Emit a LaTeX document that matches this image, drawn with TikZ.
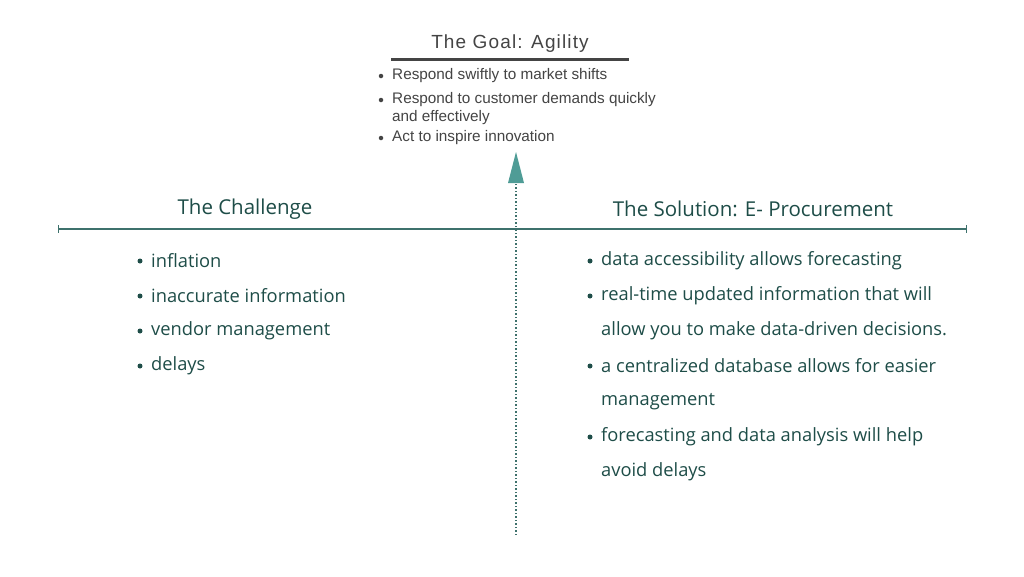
\documentclass[tikz,border=0pt]{standalone}
\usepackage{fontspec}
\setmainfont{Open Sans}
\newfontfamily\arialf{Liberation Sans}
\newfontfamily\arialsp{Liberation Sans}[LetterSpace=6]
\definecolor{tealtxt}{HTML}{1E4D48}
\definecolor{tealline}{HTML}{3E716C}
\definecolor{tealarrow}{HTML}{4F9C96}
\definecolor{graytxt}{HTML}{444444}
\begin{document}
\begin{tikzpicture}[x=1pt,y=-1pt,
  toptxt/.style={anchor=west,inner sep=0,font=\arialf\fontsize{15.3}{17}\selectfont,text=graytxt},
  topdot/.style={circle,fill=graytxt,inner sep=0,minimum size=4.5pt},
  lst/.style={anchor=west,inner sep=0,font=\fontsize{18.3}{21}\selectfont,text=tealtxt},
  dot/.style={circle,fill=tealtxt,inner sep=0,minimum size=5pt},
  head/.style={inner sep=0,font=\fontsize{20.5}{24}\selectfont,text=tealtxt}]
\useasboundingbox (0,0) rectangle (1024,576);
\fill[white] (0,0) rectangle (1024,576);
% top
\node[inner sep=0,font=\arialsp\fontsize{19}{22}\selectfont,text=graytxt] (goal) at (510,44) {The Goal: Agility};
\draw[graytxt,line width=3pt] (391,59) -- (629,59);
\foreach \t/\y/\n in {{Respond swiftly to market shifts}/76/a,{Respond to customer demands quickly}/100/b,{and effectively}/118/c,{Act to inspire innovation}/138/d}
  \node[toptxt] (t\n) at (392,\y) {\t};
\foreach \y in {76,100,138} \node[topdot] at (381,\y) {};
% axes
\coordinate (l) at (58,229); \coordinate (r) at (966,229);
\draw[tealline,line width=1.5pt] (l) -- (r);
\draw[tealline,line width=1pt] (58,225) -- (58,233) (966,225) -- (966,233);
\coordinate (bot) at (516,535); \coordinate (tip) at (516,152);
\draw[tealline,line width=1.5pt,dotted] (bot) -- (516,183);
\fill[tealarrow] (tip) -- (524,183) -- (508,183) -- cycle;
% headings
\node[head] (ch) at (245,209) {The Challenge};
\node[head] (so) at (753,209) {The Solution: E- Procurement};
% left list
\foreach \t/\y in {inflation/261,inaccurate information/296,vendor management/331,delays/366}
  {\node[lst] at (151,\y) {\t}; \node[dot] at (140,\y) {};}
% right list
\foreach \t/\y in {data accessibility allows forecasting/261,real-time updated information that will/296,allow you to make data-driven decisions./331,a centralized database allows for easier/366,management/402,forecasting and data analysis will help/437,avoid delays/472}
  \node[lst] at (601,\y) {\t};
\foreach \y in {261,296,366,437} \node[dot] at (590,\y) {};
\end{tikzpicture}
\end{document}
